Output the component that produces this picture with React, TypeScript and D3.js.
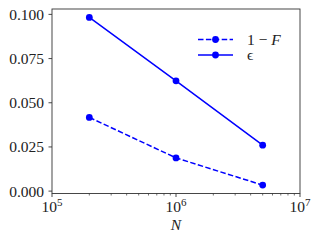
import React from "react";
import * as d3 from "d3";

const WIDTH = 319;
const HEIGHT = 244;

const nValues = [2e5, 1e6, 5e6];
const oneMinusF = [0.0417, 0.0188, 0.0034];
const epsilon = [0.0983, 0.0624, 0.026];
const yTicks = [0, 0.025, 0.05, 0.075, 0.1];
const xDecades = [1e5, 1e6, 1e7];
const seriesLabels = ["1 \u2212 ", "\u03f5"];

const FONT = "'Times New Roman', 'Liberation Serif', Times, serif";
const BLUE = "#0000ff";

export default function App() {
    const margin = { top: 9, right: 19, bottom: 50.5, left: 52 };

    const x = d3.scaleLog([1e5, 1e7], [margin.left, WIDTH - margin.right]);

    const lo = d3.min([...oneMinusF, ...epsilon])!;
    const hi = d3.max([...oneMinusF, ...epsilon])!;
    const pad = (hi - lo) * 0.05;
    const y = d3.scaleLinear([lo - pad, hi + pad], [HEIGHT - margin.bottom, margin.top]);

    const line = d3.line<number>()
        .x((d, i) => x(nValues[i]))
        .y((d) => y(d));

    const minorTicks: number[] = [];
    for (const dec of [1e5, 1e6]) {
        for (let k = 2; k <= 9; k++) minorTicks.push(dec * k);
    }

    const bottom = HEIGHT - margin.bottom;
    const right = WIDTH - margin.right;

    const legendX = 198;
    const legendRows = [39.5, 55];
    const textStyle = { fontFamily: FONT };

    return <svg width={WIDTH} height={HEIGHT}
        style={{ position: "absolute", left: 0, top: 0, background: "white", fontFamily: FONT }}>

        {/* series */}
        <path d={line(oneMinusF)!} fill="none" stroke={BLUE} strokeWidth={1.5} strokeDasharray="5.5,2.4" />
        <path d={line(epsilon)!} fill="none" stroke={BLUE} strokeWidth={1.5} />
        {[oneMinusF, epsilon].map((s, si) => s.map((v, i) => (
            <circle key={si + "-" + i} cx={x(nValues[i])} cy={y(v)} r={3.4} fill={BLUE} />
        )))}

        {/* frame */}
        <rect x={margin.left} y={margin.top} width={right - margin.left} height={bottom - margin.top}
            fill="none" stroke="#333" strokeWidth={0.9} />

        {/* y axis */}
        <g name="yTicks">
            {yTicks.map((t) => (
                <g key={t}>
                    <line x1={margin.left - 3.5} x2={margin.left} y1={y(t)} y2={y(t)} stroke="#333" strokeWidth={0.9} />
                    <text x={margin.left - 8} y={y(t)} dy="0.35em" textAnchor="end" fontSize={15.5} fill="#222" style={textStyle}>
                        {t.toFixed(3)}
                    </text>
                </g>
            ))}
        </g>

        {/* x axis */}
        <g name="xTicks">
            {xDecades.map((t) => (
                <g key={t}>
                    <line x1={x(t)} x2={x(t)} y1={bottom} y2={bottom + 3.5} stroke="#333" strokeWidth={0.9} />
                    <text x={x(t)} y={bottom + 18.5} textAnchor="middle" fontSize={15.5} fill="#222" style={textStyle}>
                        10<tspan fontSize={11} dy={-6}>{Math.round(Math.log10(t))}</tspan>
                    </text>
                </g>
            ))}
            {minorTicks.map((t) => (
                <line key={t} x1={x(t)} x2={x(t)} y1={bottom} y2={bottom + 2} stroke="#333" strokeWidth={0.7} />
            ))}
            <text x={x(1e6)} y={bottom + 36} textAnchor="middle" fontSize={15.5} fontStyle="italic" fill="#222" style={textStyle}>N</text>
        </g>

        {/* legend */}
        <g name="legend">
            {legendRows.map((ly, i) => (
                <g key={i}>
                    <line x1={legendX} x2={legendX + 35} y1={ly} y2={ly} stroke={BLUE} strokeWidth={1.5}
                        strokeDasharray={i === 0 ? "5.5,2.4" : undefined} />
                    <circle cx={legendX + 17.5} cy={ly} r={3.4} fill={BLUE} />
                    <text x={legendX + 49} y={ly} dy="0.35em" fontSize={15.5} fill="#222" style={textStyle}>
                        {seriesLabels[i]}
                        {i === 0 ? <tspan fontStyle="italic">F</tspan> : null}
                    </text>
                </g>
            ))}
        </g>
    </svg>;
}
